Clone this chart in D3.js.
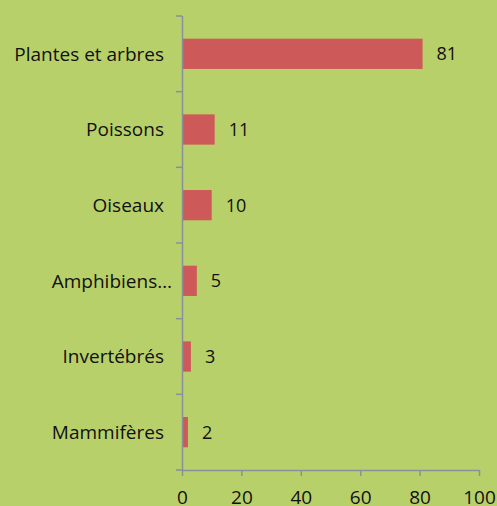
<!DOCTYPE html>
<html>
<head>
<meta charset="utf-8">
<script src="https://cdn.jsdelivr.net/npm/d3@7"></script>
<style>
  html,body{margin:0;padding:0;background:#b8d06a;}
  svg{display:block;}
  text{font-family:"Open Sans","Noto Sans",sans-serif;fill:#111;}
</style>
</head>
<body>
<div id="chart"></div>
<script>
// catégories et valeurs
var categories=["Plantes et arbres","Poissons","Oiseaux","Amphibiens…","Invertébrés","Mammifères"];
var values=[81,11,10,5,3,2];
var xTicks=[0,20,40,60,80,100];

var width=497,height=506;
var margin={left:182,right:18,top:16,bottom:36};

var svg=d3.select("#chart")
    .append("svg")
    .attr("width",width)
    .attr("height",height);

svg.append("rect")
    .attr("width",width)
    .attr("height",height)
    .attr("fill","#b8d06a");

var x=d3.scaleLinear()
    .domain([0,100])
    .range([margin.left,margin.left+297]);

var y=d3.scaleBand()
    .domain(categories)
    .range([margin.top,height-margin.bottom])
    .paddingInner(0.6)
    .paddingOuter(0.3);

var axisColor="#8a8f9c";

//barres
svg.append("g")
    .selectAll("rect")
    .data(values)
    .enter().append("rect")
    .attr("x",x(0))
    .attr("y",function(d,i){return y(categories[i]);})
    .attr("width",function(d){return x(d)-x(0);})
    .attr("height",y.bandwidth())
    .attr("fill","#cd5a58");

//étiquettes de valeur
svg.append("g")
    .selectAll("text")
    .data(values)
    .enter().append("text")
    .attr("x",function(d){return x(d)+14;})
    .attr("y",function(d,i){return y(categories[i])+y.bandwidth()/2;})
    .attr("dy","0.36em")
    .style("font-size","18px")
    .text(function(d){return d;});

//axe des catégories
var step=(height-margin.bottom-margin.top)/categories.length;
var yAxis=svg.append("g");
yAxis.append("line")
    .attr("x1",x(0)+0.5).attr("x2",x(0)+0.5)
    .attr("y1",margin.top).attr("y2",height-margin.bottom)
    .attr("stroke",axisColor).attr("stroke-width",1.5);
yAxis.selectAll("line.tick")
    .data(d3.range(categories.length+1))
    .enter().append("line")
    .attr("class","tick")
    .attr("x1",x(0)-6).attr("x2",x(0))
    .attr("y1",function(i){return margin.top+i*step;})
    .attr("y2",function(i){return margin.top+i*step;})
    .attr("stroke",axisColor).attr("stroke-width",1.5);
yAxis.selectAll("text")
    .data(categories)
    .enter().append("text")
    .attr("x",function(d){return d.indexOf("…")>=0?x(0)-10:x(0)-18;})
    .attr("y",function(d){return y(d)+y.bandwidth()/2;})
    .attr("dy","0.36em")
    .attr("text-anchor","end")
    .style("font-size","19px")
    .text(function(d){return d;});

//axe des valeurs
var xAxis=svg.append("g")
    .attr("transform","translate(0,"+(height-margin.bottom)+")")
    .call(d3.axisBottom(x).tickValues(xTicks).tickSize(6).tickPadding(15).tickSizeOuter(0));
xAxis.select(".domain").attr("stroke",axisColor).attr("stroke-width",1.5);
xAxis.selectAll(".tick line").attr("stroke",axisColor).attr("stroke-width",1.5);
xAxis.selectAll(".tick text")
    .style("font-size","19px")
    .attr("fill","#111");
</script>
</body>
</html>
